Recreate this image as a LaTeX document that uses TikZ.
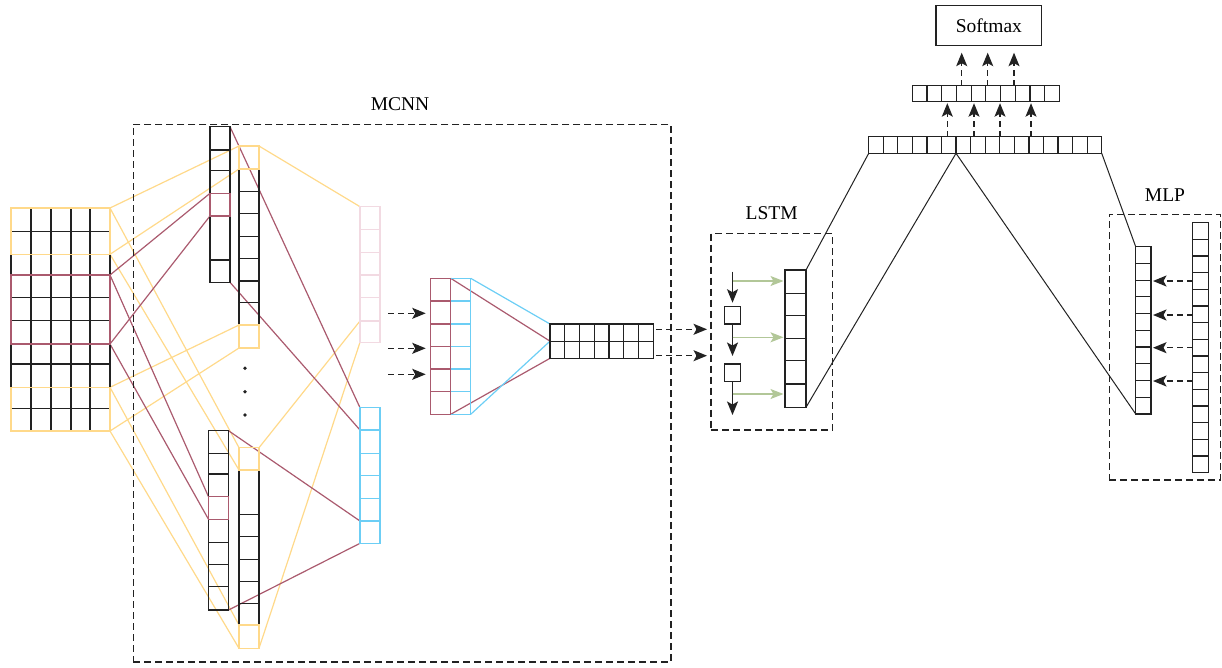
\documentclass[tikz,border=0pt]{standalone}
\usepackage{fontspec}
\setmainfont{Liberation Serif}
\usetikzlibrary{arrows.meta,fit}
\definecolor{yel}{HTML}{FFD98A}
\definecolor{mau}{HTML}{AA5A6E}
\definecolor{pinkL}{HTML}{F2DAE2}
\definecolor{blueL}{HTML}{6CCEF5}
\definecolor{greenL}{HTML}{B2C798}
\definecolor{ink}{HTML}{222222}
\newcommand\cellH[4]{\foreach \yy in {#4}{\draw[#1] (#2,\yy) -- (#3,\yy);}}
\newcommand\cellV[4]{\foreach \xx in {#4}{\draw[#1] (\xx,#2) -- (\xx,#3);}}
\newcommand\lbl{\fontsize{19.5}{22}\selectfont}
\pgfdeclarelayer{bg}
\pgfsetlayers{bg,main}
\begin{document}
\begin{tikzpicture}[x=1pt,y=-1pt,line width=1.2pt,draw=ink,
  box/.style={draw=ink,rectangle,inner sep=0pt,outer sep=0pt,line width=1.2pt},
  dbox/.style={draw=ink,rectangle,inner sep=0pt,outer sep=0pt,line width=1.2pt,dash pattern=on 7pt off 4pt},
  tipS/.style={-{Stealth[length=13.5pt,width=11pt,inset=3pt]}},
  darr/.style={draw=ink,line width=1.2pt,dash pattern=on 6pt off 4pt,tipS},
  sarr/.style={draw=ink,line width=1.2pt,tipS},
  garr/.style={draw=greenL,line width=1.2pt,-{Stealth[length=13pt,width=10pt,inset=3pt]}},
  yl/.style={draw=yel,line width=1.2pt},
  ml/.style={draw=mau,line width=1.2pt},
  bl/.style={draw=ink,line width=1pt}]
\useasboundingbox (0,0) rectangle (1222,667);

% ---------- MCNN ----------
\node[dbox, fit={(133.3,124.3) (671,662)}] (mcnn) {};
\node[font=\lbl] (mcnnlbl) at (400,104) {MCNN};

% input grid
\node[box, fit={(11,208) (110,431)}] (inp) {};
\cellV{ink}{208}{431}{31,51,71,90}
\cellH{ink}{11}{110}{231.7,254.3,275,297.7,320.7,344,364,387.3,408.3}
\node[box, draw=yel, fit={(11,208) (110,254.3)}] (inY1) {};
\node[box, draw=mau, fit={(11,275) (110,344)}] (inR) {};
\node[box, draw=yel, fit={(11,387.3) (110,431)}] (inY2) {};

% upper columns
\node[box, fit={(210,126.7) (230,282.3)}] (u1) {};
\cellH{ink}{210}{230}{150,170.5,260}
\node[box, draw=mau, fit={(210,193.3) (230,216)}] (u1r) {};
\node[box, fit={(239,169) (259,325)}] (u2) {};
\cellH{ink}{239}{259}{191.7,213.3,236.7,258.3,281,302.3}
\node[box, draw=yel, fit={(239,146) (259,169)}] (u2t) {};
\node[box, draw=yel, fit={(239,325) (259,348)}] (u2b) {};

% lower columns
\node[box, fit={(208.5,430.7) (228.5,610)}] (l1) {};
\cellH{ink}{208.5}{228.5}{453.3,474,542.7,564.3,586.7}
\node[box, draw=mau, fit={(208.5,496.7) (228.5,519.3)}] (l1r) {};
\node[box, fit={(239,470) (259,625)}] (l2) {};
\cellH{ink}{239}{259}{514.3,536.7,559.3,581.7,603.3}
\node[box, draw=yel, fit={(239,447.7) (259,470)}] (l2t) {};
\node[box, draw=yel, fit={(239,625) (259,648.3)}] (l2b) {};

% dots
\fill[ink] (245,368.3) circle (1.9) (245,391.7) circle (1.9) (245,415) circle (1.9);

% pink and blue columns
\node[box, draw=pinkL, fit={(360,206.7) (380,342.3)}] (pk) {};
\cellH{pinkL}{360}{380}{229.3,252.3,275,297.7,321}
\coordinate (pk6) at (360,321);
\node[box, draw=blueL, fit={(360,407.7) (380,543.3)}] (blc) {};
\cellH{blueL}{360}{380}{430,453.3,475.7,498.3,521}
\coordinate (bl2) at (360,430);
\coordinate (bl6) at (360,521);

% stacked red/blue
\node[box, draw=blueL, fit={(450.7,278.3) (470.7,414.3)}] (sb) {};
\cellH{blueL}{450.7}{470.7}{301,324,346.7,369,391.7}
\node[box, draw=mau, fit={(430.7,278.3) (450.7,414.3)}] (sr) {};
\cellH{mau}{430.7}{450.7}{301,324,346.7,369,391.7}

% dashed arrows into stack
\coordinate (da1) at (388,313.3);
\coordinate (da2) at (388,348.3);
\coordinate (da3) at (388,374.3);
\draw[darr, shorten >=5pt] (da1) -- (da1 -| sr.west);
\draw[darr, shorten >=5pt] (da2) -- (da2 -| sr.west);
\draw[darr, shorten >=5pt] (da3) -- (da3 -| sr.west);

% 2x7 grid
\node[box, fit={(550,324) (653.3,358.3)}] (g) {};
\draw[ink] (g.west) -- (g.east);
\foreach \i in {1,...,6} \draw[ink] (550+\i*14.76,324) -- (550+\i*14.76,358.3);

% ---------- LSTM ----------
\node[dbox, fit={(711,233.3) (832.5,430)}] (lstmbox) {};
\node[font=\lbl] (lstmlbl) at (771.7,213) {LSTM};
\node[box, fit={(785,270) (806,407.3)}] (lc) {};
\cellH{ink}{785}{806}{293.3,315.7,338.3,360.7,384}
\node[box, fit={(724.3,306.7) (740.7,324)}] (s1) {};
\node[box, fit={(724.3,364) (740.7,381.7)}] (s2) {};
\coordinate (lin) at (732.5,271.7);
\coordinate (lout) at (732.5,415);
\draw[sarr, shorten >=4pt] (lin) -- (s1);
\draw[sarr, shorten >=8pt] (s1) -- (s2);
\draw[sarr] (s2) -- (lout);
\coordinate (gr1) at (732.5,281);
\coordinate (gr2) at (732.5,337.3);
\coordinate (gr3) at (732.5,394);
\draw[garr, shorten >=1.5pt] (gr1) -- (gr1 -| lc.west);
\draw[garr, shorten >=1.5pt] (gr2) -- (gr2 -| lc.west);
\draw[garr, shorten >=1.5pt] (gr3) -- (gr3 -| lc.west);

% grid -> LSTM
\coordinate (ga1) at (653.3,329.3);
\coordinate (ga2) at (653.3,355.7);
\draw[darr, shorten <=3pt, shorten >=4pt] (ga1) -- (ga1 -| lstmbox.west);
\draw[darr, shorten <=3pt, shorten >=4pt] (ga2) -- (ga2 -| lstmbox.west);

% ---------- top vectors ----------
\node[box, fit={(868.7,136.7) (1101.7,153.3)}] (tv) {};
\foreach \i in {1,...,15} \draw[ink] (868.7+\i*14.5625,136.7) -- (868.7+\i*14.5625,153.3);
\coordinate (apex) at (956,153.3);
\node[box, fit={(912.3,85.7) (1059.3,101.7)}] (mv) {};
\foreach \i in {1,...,9} \draw[ink] (912.3+\i*14.7,85.7) -- (912.3+\i*14.7,101.7);
\node[box, fit={(936,5.7) (1041.7,45.7)}] (sm) {};
\node[font=\lbl] (smlbl) at (sm.center) {Softmax};
\foreach \xx [count=\k] in {947.3,974,1000,1031} {
  \coordinate (up\k) at (\xx,136.7);
  \draw[darr, shorten >=1.5pt] (up\k) -- (up\k |- mv.south);
}
\foreach \xx [count=\k] in {961.7,987.7,1014} {
  \coordinate (us\k) at (\xx,85.7);
  \draw[darr, shorten >=7pt] (us\k) -- (us\k |- sm.south);
}

% ---------- MLP ----------
\node[dbox, fit={(1109.3,214.3) (1220.4,480)}] (mlpbox) {};
\node[font=\lbl] (mlplbl) at (1165,195) {MLP};
\node[box, fit={(1135.7,246.7) (1151,414)}] (m1) {};
\foreach \i in {1,...,9} \draw[ink] (1135.7,246.7+\i*16.73) -- (1151,246.7+\i*16.73);
\node[box, fit={(1192.7,222.7) (1208.3,472.7)}] (m2) {};
\foreach \i in {1,...,14} \draw[ink] (1192.7,222.7+\i*16.667) -- (1208.3,222.7+\i*16.667);
\foreach \yy [count=\k] in {281,315,347.7,381} {
  \coordinate (ma\k) at (1192.7,\yy);
  \draw[darr, shorten >=2pt] (ma\k) -- (ma\k -| m1.east);
}

% ---------- connectors (background) ----------
\begin{pgfonlayer}{bg}
  % yellow
  \draw[yl] (inY1.north east) -- (u2t.north west);
  \draw[yl] (inY1.south east) -- (u2t.south west);
  \draw[yl] (inY1.north east) -- (l2t.north west);
  \draw[yl] (inY1.south east) -- (l2t.south west);
  \draw[yl] (inY2.north east) -- (u2b.north west);
  \draw[yl] (inY2.south east) -- (u2b.south west);
  \draw[yl] (inY2.north east) -- (l2b.north west);
  \draw[yl] (inY2.south east) -- (l2b.south west);
  \draw[yl] (u2t.north east) -- (pk.north west);
  \draw[yl] (l2t.north east) -- (pk6);
  \draw[yl] (l2b.south east) -- (pk.south west);
  % red
  \draw[ml] (inR.north east) -- (u1r.north west);
  \draw[ml] (inR.south east) -- (u1r.south west);
  \draw[ml] (inR.north east) -- (l1r.north west);
  \draw[ml] (inR.south east) -- (l1r.south west);
  \draw[ml] (u1.north east) -- (blc.north west);
  \draw[ml] (u1.south east) -- (bl2);
  \draw[ml] (l1.north east) -- (bl6);
  \draw[ml] (l1.south east) -- (blc.south west);
  % stack -> grid
  \draw[ml] (sr.north east) -- (g.west);
  \draw[ml] (sr.south east) -- (g.south west);
  \draw[draw=blueL, line width=1.2pt] (sb.north east) -- (g.north west);
  \draw[draw=blueL, line width=1.2pt] (sb.south east) -- (g.west);
  % LSTM -> vector -> MLP
  \draw[bl] (lc.north east) -- (tv.south west);
  \draw[bl] (lc.south east) -- (apex);
  \draw[bl] (apex) -- (m1.south west);
  \draw[bl] (tv.south east) -- (m1.north west);
\end{pgfonlayer}
\end{tikzpicture}
\end{document}
